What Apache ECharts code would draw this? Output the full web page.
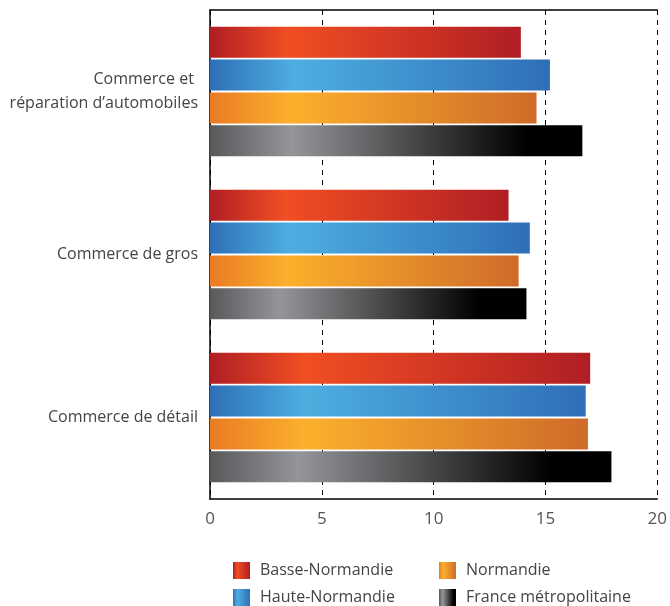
<!DOCTYPE html>
<html>
<head>
<meta charset="utf-8">
<script src="https://cdn.jsdelivr.net/npm/echarts@6/dist/echarts.min.js"></script>
<style>
  html, body { margin: 0; padding: 0; background: #fff; }
  #container { width: 670px; height: 606px; }
</style>
</head>
<body>
<div id="container"></div>
<script>
const categories = ['Commerce et \nréparation d\u2019automobiles', 'Commerce de gros', 'Commerce de détail'];
const xTicks = [0, 5, 10, 15, 20];

const basseNormandie = [13.9, 13.35, 17.0];
const hauteNormandie = [15.2, 14.3, 16.8];
const normandie = [14.6, 13.8, 16.9];
const franceMetro = [16.65, 14.15, 17.95];

function gradient(stops) {
	return new echarts.graphic.LinearGradient(0, 0, 1, 0, stops.map(function (s) {
		return { offset: s[0], color: s[1] };
	}));
}

const fills = {
	red: gradient([[0, '#b01e24'], [0.25, '#f04e23'], [1, '#b01e24']]),
	blue: gradient([[0, '#2e6fb7'], [0.25, '#4eaee0'], [1, '#2e6fb7']]),
	orange: gradient([[0, '#ea7b24'], [0.25, '#fbb02c'], [1, '#cf6b29']]),
	grey: gradient([[0, '#58595b'], [0.22, '#939598'], [0.85, '#000000'], [1, '#000000']])
};

function serie(name, data, fill) {
	return {
		name: name,
		type: 'bar',
		data: data,
		barWidth: 31,
		barGap: '6%',
		itemStyle: { color: fill },
		emphasis: { disabled: true }
	};
}

var dom = document.getElementById('container');
var chart = echarts.init(dom);

var textStyle = { fontFamily: 'Open Sans', fontSize: 16, color: '#444' };

function legendColumn(left, names) {
	return {
		orient: 'vertical',
		left: left,
		top: 562,
		height: 80,
		padding: 0,
		icon: 'rect',
		itemWidth: 17,
		itemHeight: 17,
		itemGap: 10,
		textStyle: { fontFamily: 'Open Sans', fontSize: 16, color: '#444', padding: [0, 0, 0, 5] },
		data: names
	};
}

chart.setOption({
	animation: false,
	textStyle: textStyle,
	grid: { left: 210, right: 12, top: 10, bottom: 107, containLabel: false },
	legend: [
		legendColumn(233, ['Basse-Normandie', 'Haute-Normandie']),
		legendColumn(439, ['Normandie', 'France métropolitaine'])
	],
	xAxis: [{
		type: 'value',
		min: xTicks[0],
		max: xTicks[xTicks.length - 1],
		interval: 5,
		axisLine: { show: true, lineStyle: { color: '#000', width: 1.5 } },
		axisTick: { show: false },
		axisLabel: { fontFamily: 'Open Sans', fontSize: 17, color: '#555', margin: 12 },
		splitLine: { show: true, lineStyle: { color: '#000', type: [5, 5], width: 1 } }
	}, {
		type: 'value',
		position: 'top',
		min: 0,
		max: 20,
		axisLine: { show: true, lineStyle: { color: '#000', width: 1.5 } },
		axisTick: { show: false },
		axisLabel: { show: false },
		splitLine: { show: false }
	}],
	yAxis: {
		type: 'category',
		inverse: true,
		data: categories,
		axisLine: { show: true, lineStyle: { color: '#000', width: 1.5 } },
		axisTick: { show: false },
		axisLabel: { fontFamily: 'Open Sans', fontSize: 16, color: '#444', margin: 12, lineHeight: 24, align: 'right' }
	},
	series: [
		serie('Basse-Normandie', basseNormandie, fills.red),
		serie('Haute-Normandie', hauteNormandie, fills.blue),
		serie('Normandie', normandie, fills.orange),
		serie('France métropolitaine', franceMetro, fills.grey)
	]
});
</script>
</body>
</html>
